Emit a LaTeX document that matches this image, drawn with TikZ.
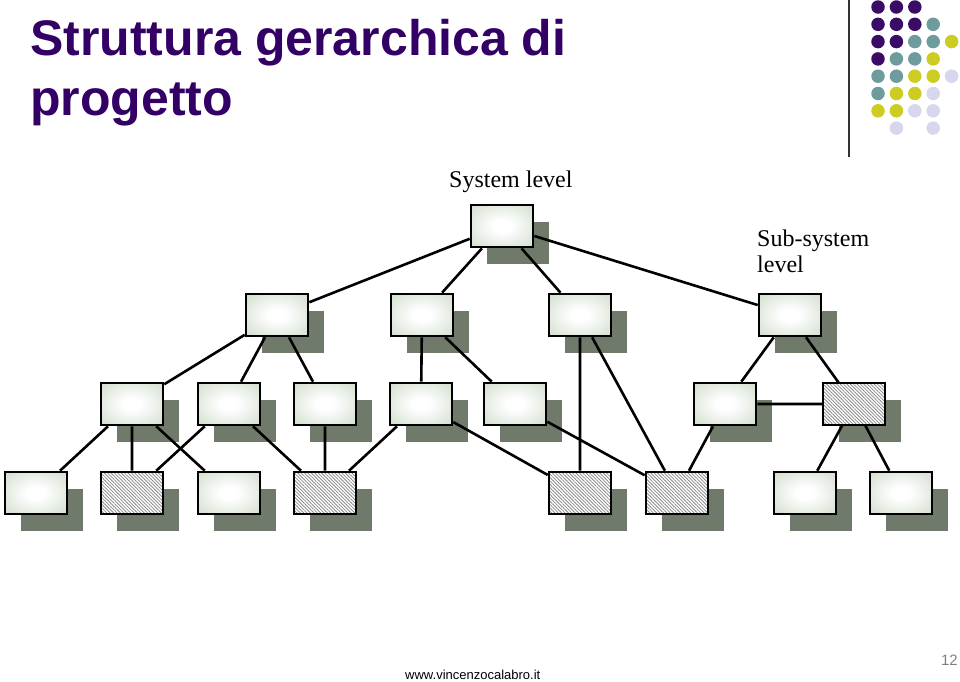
\documentclass[tikz,border=0pt]{standalone}
\usepackage{fontspec}
\setmainfont{Liberation Serif}
\newfontfamily\arialfont{Liberation Sans}
\usetikzlibrary{shadows,patterns.meta}
\definecolor{ttpurple}{RGB}{51,0,102}
\definecolor{dotpurple}{RGB}{58,12,102}
\definecolor{dotteal}{RGB}{110,155,155}
\definecolor{dotyellow}{RGB}{204,204,34}
\definecolor{dotlilac}{RGB}{214,214,236}
\definecolor{blkedge}{RGB}{194,210,188}
\definecolor{blkshadow}{RGB}{112,122,106}
\pgfdeclareradialshading{blkglow}{\pgfpoint{0bp}{0bp}}{color(0bp)=(white);
  color(7bp)=(white); color(46bp)=(blkedge); color(100bp)=(blkedge)}

\begin{document}
\begin{tikzpicture}[x=1pt,y=-1pt,
  blk/.style={draw,line width=2.6pt,minimum width=62pt,minimum height=42pt,inner sep=0pt,
    drop shadow={shadow xshift=16pt,shadow yshift=-17pt,fill=blkshadow,opacity=1}},
  blkplain/.style={blk,shading=blkglow},
  blkhatch/.style={blk,preaction={fill=white},
    pattern={Lines[angle=-45,distance=2.4pt,line width=0.8pt]},pattern color=black!45},
  link/.style={line width=2.6pt},
  lbl/.style={font=\fontsize{24}{26}\selectfont,anchor=base west,inner sep=0pt},
  dot/.style={circle,inner sep=0pt,minimum size=13.5pt}]
\useasboundingbox (0,0) rectangle (960,681);

% title and logo
\node[anchor=base west,inner sep=0pt,text=ttpurple,font=\arialfont\bfseries\fontsize{50}{60}\selectfont] (title1) at (30,55) {Struttura gerarchica di};
\node[anchor=base west,inner sep=0pt,text=ttpurple,font=\arialfont\bfseries\fontsize{50}{60}\selectfont] (title2) at (30,115) {progetto};
\draw[line width=1.2pt,black!80] (849,0) -- (849,157);
\foreach \c/\r/\col in {0/0/dotpurple,1/0/dotpurple,2/0/dotpurple,
    0/1/dotpurple,1/1/dotpurple,2/1/dotpurple,3/1/dotteal,
    0/2/dotpurple,1/2/dotpurple,2/2/dotteal,3/2/dotteal,4/2/dotyellow,
    0/3/dotpurple,1/3/dotteal,2/3/dotteal,3/3/dotyellow,
    0/4/dotteal,1/4/dotteal,2/4/dotyellow,3/4/dotyellow,4/4/dotlilac,
    0/5/dotteal,1/5/dotyellow,2/5/dotyellow,3/5/dotlilac,
    0/6/dotyellow,1/6/dotyellow,2/6/dotlilac,3/6/dotlilac,
    1/7/dotlilac,3/7/dotlilac}
  \node[dot,fill=\col] (d\c\r) at (878+18.4*\c,7+17.3*\r) {};

% levels
\node[lbl] (syslbl) at (449,187) {System level};
\node[lbl] (sublbl1) at (757,246) {Sub-system};
\node[lbl] (sublbl2) at (757,272) {level};

% blocks
\node[blkplain] (top) at (502,226) {};
\node[blkplain] (s1) at (277,315) {};
\node[blkplain] (s2) at (422,315) {};
\node[blkplain] (s3) at (580,315) {};
\node[blkplain] (s4) at (790,315) {};
\node[blkplain] (m1) at (132,404) {};
\node[blkplain] (m2) at (229,404) {};
\node[blkplain] (m3) at (325,404) {};
\node[blkplain] (m4) at (421,404) {};
\node[blkplain] (m5) at (515,404) {};
\node[blkplain] (m6) at (725,404) {};
\node[blkhatch] (m7) at (854,404) {};
\node[blkplain] (c1) at (36,493) {};
\node[blkhatch] (c2) at (132,493) {};
\node[blkplain] (c3) at (229,493) {};
\node[blkhatch] (c4) at (325,493) {};
\node[blkhatch] (c5) at (580,493) {};
\node[blkhatch] (c6) at (677,493) {};
\node[blkplain] (c7) at (805,493) {};
\node[blkplain] (c8) at (901,493) {};

% links
\draw[link] (top) -- (s1) (top) -- (s2) (top) -- (s3) (top) -- (s4)
  (s1) -- (m1) (s1) -- (m2) (s1) -- (m3)
  (s2) -- (m4) (s2) -- (m5)
  (s3) -- (c5) (s3) -- (c6)
  (s4) -- (m6) (s4) -- (m7)
  (m1) -- (c1) (m1) -- (c2) (m1) -- (c3)
  (m2) -- (c2) (m2) -- (c4)
  (m3) -- (c4)
  (m4) -- (c4) (m4) -- (c5)
  (m5) -- (c6)
  (m6) -- (m7) (m6) -- (c6)
  (m7) -- (c7) (m7) -- (c8);

% footer
\node[anchor=base west,inner sep=0pt,font=\arialfont\fontsize{13}{15}\selectfont] (site) at (405,679) {www.vincenzocalabro.it};
\node[anchor=base east,inner sep=0pt,text=black!50,font=\arialfont\fontsize{15}{17}\selectfont] (pagenum) at (958,665) {12};
\end{tikzpicture}
\end{document}
